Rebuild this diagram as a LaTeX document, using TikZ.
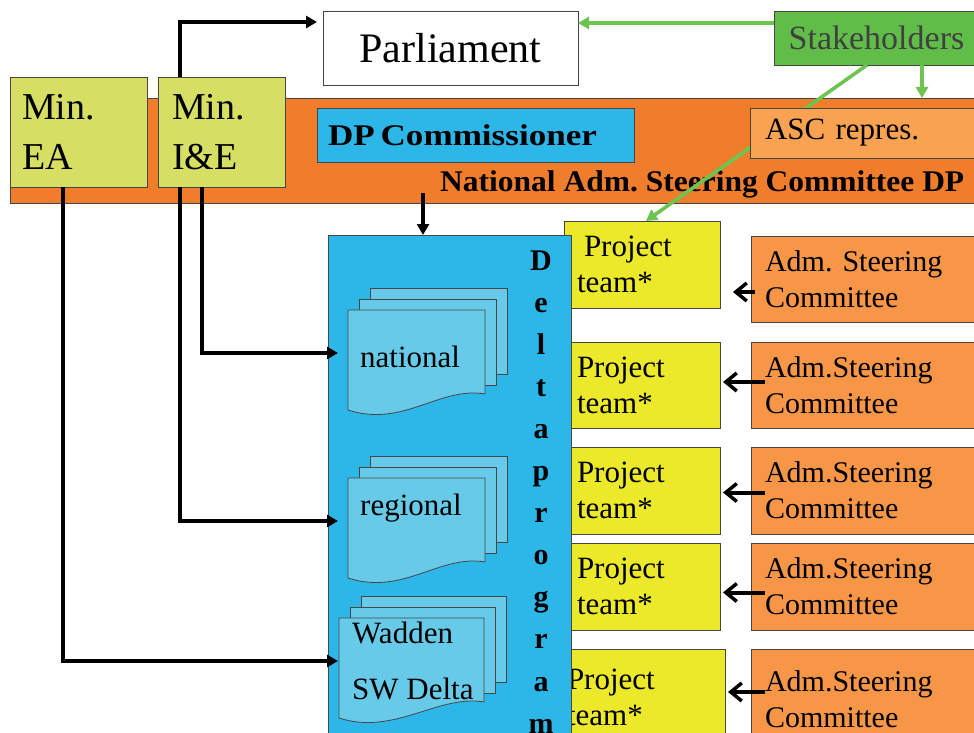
\documentclass[tikz,border=0pt]{standalone}
\usepackage{fontspec}
\usepackage{graphicx}
\setmainfont{Liberation Serif}
\usetikzlibrary{arrows.meta,calc}
\definecolor{bandor}{RGB}{240,125,44}
\definecolor{admor}{RGB}{247,150,70}
\definecolor{ascor}{RGB}{248,162,82}
\definecolor{minfill}{RGB}{214,222,100}
\definecolor{ptyellow}{RGB}{236,232,42}
\definecolor{dpblue}{RGB}{45,183,232}
\definecolor{docfill}{RGB}{102,202,232}
\definecolor{stakegreen}{RGB}{96,190,72}
\definecolor{arrgreen}{RGB}{110,196,80}
\definecolor{boxline}{RGB}{70,70,70}
\tikzset{
  box/.style={draw=boxline, line width=0.8pt, anchor=north west, inner ysep=0pt, outer sep=0pt},
  blk/.style={line width=4pt, black, -{Triangle[length=11pt,width=12pt]}},
  grn/.style={line width=3.6pt, arrgreen, -{Triangle[length=11pt,width=12pt]}},
  barb/.style={line width=4pt, black, -{Straight Barb[length=11pt,width=18pt,line width=3.5pt]}},
  ptbox/.style={box, fill=ptyellow, align=left, font=\fontsize{31}{36}\selectfont},
  admbox/.style={box, fill=admor, inner xsep=14pt, text width=202pt, align=left, font=\fontsize{30}{36}\selectfont},
  docsheet/.style={draw=boxline, line width=0.8pt, fill=docfill},
  doctxt/.style={anchor=base west, inner sep=0pt, font=\fontsize{31}{36}\selectfont},
  letter/.style={anchor=base, inner sep=0pt, font=\bfseries\fontsize{30}{32}\selectfont}
}
\newcommand{\docstack}[4]{%
  \draw[docsheet] ({#2+22},{#3-22}) rectangle ++(#4,86);
  \draw[docsheet] ({#2+11},{#3-11}) rectangle ++(#4,86);
  \draw[docsheet] (#2,#3) -- ({#2+#4},#3) -- ({#2+#4},{#3+84})
     .. controls ({#2+#4-45},{#3+76}) and ({#2+55},{#3+118}) .. (#2,{#3+100}) -- cycle;
  \coordinate (#1) at (338,{#3+43});
}
\frenchspacing
\begin{document}
\begin{tikzpicture}[x=1pt,y=-1pt]
\useasboundingbox (0,0) rectangle (974,733);
\clip (0,0) rectangle (974,733);
% band
\node[box, fill=bandor, minimum width=964pt, minimum height=105pt] (band) at (10,98) {};
% top
\node[box, fill=white, minimum width=255pt, minimum height=74pt, font=\fontsize{42}{48}\selectfont] (parl) at (323,11) {Parliament};
\node[box, fill=stakegreen, minimum width=205pt, minimum height=54pt, text=black!75, font=\fontsize{34}{40}\selectfont] (stake) at (774,11) {Stakeholders};
% ministries
\node[box, fill=minfill, minimum height=110pt, inner xsep=12pt, text width=113pt, align=left, font=\fontsize{38}{50}\selectfont] (mea) at (10,77) {Min.\\EA};
\node[box, fill=minfill, minimum height=110pt, inner xsep=14pt, text width=99pt, align=left, font=\fontsize{38}{50}\selectfont] (mie) at (158,77) {Min.\\I\&E};
% DP commissioner
\node[box, fill=dpblue, minimum height=54pt, inner xsep=11pt, text width=295pt, align=left, font=\bfseries\fontsize{30}{36}\selectfont] (dpc) at (317,108) {\scalebox{1.17}[1]{DP\hspace{5pt}Commissioner}};
% project teams
\node[ptbox, minimum height=87pt, inner xsep=13pt, text width=130pt] (pt1) at (564,221) {\hspace*{7pt}Project\\team*};
\node[ptbox, minimum height=86pt, inner xsep=17pt, text width=126pt] (pt2) at (560,342) {Project\\team*};
\node[ptbox, minimum height=87pt, inner xsep=17pt, text width=126pt] (pt3) at (560,447) {Project\\team*};
\node[ptbox, minimum height=87pt, inner xsep=17pt, text width=126pt] (pt4) at (560,543) {Project\\team*};
\node[ptbox, minimum height=96pt, inner xsep=12pt, text width=146pt] (pt5) at (555,649) {Project\\team*};
% adm steering committees
\node[admbox, minimum height=86pt] (adm1) at (751,236) {Adm. Steering\\Committee};
\node[admbox, minimum height=86pt] (adm2) at (751,342) {Adm.Steering\\Committee};
\node[admbox, minimum height=87pt] (adm3) at (751,447) {Adm.Steering\\Committee};
\node[admbox, minimum height=87pt] (adm4) at (751,543) {Adm.Steering\\Committee};
\node[admbox, minimum height=100pt] (adm5) at (751,649) {Adm.Steering\\Committee};
% Deltaprogram
\node[box, fill=dpblue, minimum width=243pt, minimum height=520pt] (dp) at (328,235) {};
\docstack{natA}{348}{310}{137}
\docstack{regA}{348}{478}{137}
\docstack{wadA}{339}{618}{145}
\node[doctxt] (tnat) at (360,367) {national};
\node[doctxt] (treg) at (360,515) {regional};
\node[doctxt] (twad) at (352,643) {Wadden};
\node[doctxt] (tsw) at (352,699) {SW Delta};
\foreach \l [count=\i from 0] in {D,e,l,t,a,p,r,o,g,r,a,m}
  \node[letter] (L\i) at (541,{270+42.1*\i}) {\l};
% national committee title
\node[anchor=base west, inner sep=0pt, font=\bfseries\fontsize{30}{36}\selectfont] (nasc) at (440,191) {\scalebox{1.05}[1]{National Adm. Steering Committee DP}};
% green diagonal (behind ASC box)
\coordinate (skd) at ($(stake.south west)+(93,0)$);
\coordinate (pt1t) at ($(pt1.north west)+(82,0)$);
\draw[grn] (skd) -- (pt1t);
\node[box, fill=ascor, minimum height=50pt, inner xsep=15pt, text width=200pt, align=left, font=\fontsize{31}{36}\selectfont] (asc) at (750,108) {ASC repres.};
% green arrows
\coordinate (sk) at ($(stake.south west)+(148,0)$);
\draw[grn] (sk) -- (sk |- band.north);
\coordinate (skw) at ($(stake.north west)+(0,12)$);
\draw[grn] (skw) -- (skw -| parl.east);
% black connectors
\coordinate (mieT) at ($(mie.north west)+(22,0)$);
\coordinate (parlA) at ($(parl.north west)+(0,11)$);
\draw[blk, shorten >=6pt] (mieT) |- (parlA);
\coordinate (meaB) at ($(mea.south west)+(53,0)$);
\coordinate (mieB1) at ($(mie.south west)+(22,0)$);
\coordinate (mieB2) at ($(mie.south west)+(44,0)$);
\draw[blk] (meaB) |- (wadA);
\draw[blk] (mieB1) |- (regA);
\draw[blk] (mieB2) |- (natA);
\coordinate (bandA) at ($(band.south west)+(413,-10)$);
\draw[blk] (bandA) -- (bandA |- dp.north);
% adm -> project arrows
\coordinate (a1) at ($(adm1.west)+(4,13)$);
\coordinate (a2) at ($(adm2.west)+(14,-3)$);
\coordinate (a3) at ($(adm3.west)+(14,2)$);
\coordinate (a4) at ($(adm4.west)+(14,6)$);
\coordinate (a5) at ($(adm5.west)+(14,-7)$);
\draw[barb, shorten >=13pt] (a1) -- (a1 -| pt1.east);
\draw[barb, shorten >=3pt] (a2) -- (a2 -| pt2.east);
\draw[barb, shorten >=3pt] (a3) -- (a3 -| pt3.east);
\draw[barb, shorten >=3pt] (a4) -- (a4 -| pt4.east);
\draw[barb, shorten >=3pt] (a5) -- (a5 -| pt5.east);
\end{tikzpicture}
\end{document}
